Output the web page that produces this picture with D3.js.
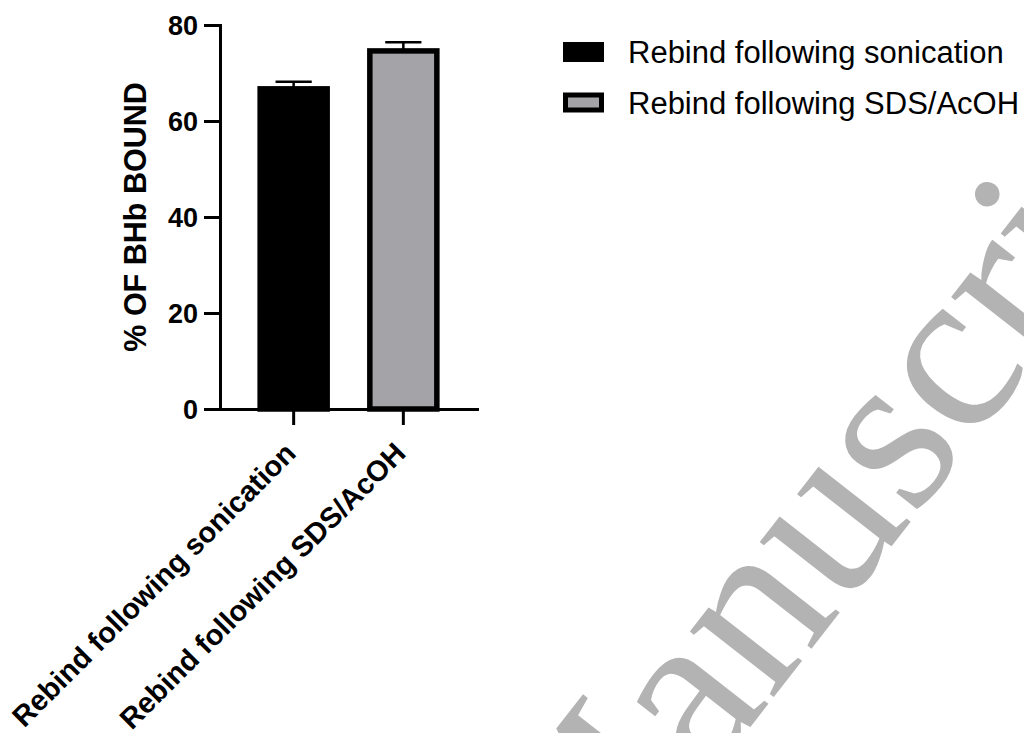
<!DOCTYPE html>
<html>
<head>
<meta charset="utf-8">
<script src="https://cdn.jsdelivr.net/npm/d3@7"></script>
<style>
  html, body { margin: 0; padding: 0; background: #fff; }
  svg { display: block; }
  text { font-family: Arial, "Liberation Sans", sans-serif; }
</style>
</head>
<body>
<svg id="chart" width="1024" height="733"></svg>
<script>
// dados
const categories = ['Rebind following sonication', 'Rebind following SDS/AcOH'];
const means = [66.7, 74.6];
const errors = [1.5, 1.8];
const yTicks = [0, 20, 40, 60, 80];
const fills = ['#000000', '#a3a3a8'];
const yTitle = '% OF BHb BOUND';
const watermark = 'Manuscript';

const svg = d3.select('#chart');

// marca d'água cinza ao fundo
svg.append('text')
  .attr('transform', 'translate(580, 945) rotate(-52)')
  .style('font-family', '"Liberation Serif", "Times New Roman", serif')
  .style('font-size', '232px')
  .attr('fill', '#b3b3b3')
  .text(watermark);

const x = d3.scaleBand().domain(categories).range([220, 477])
  .paddingInner(0.389).paddingOuter(0.366);
const y = d3.scaleLinear().domain([0, 80]).range([409, 25]);

const data = categories.map((c, i) => ({ name: c, mean: means[i], err: errors[i], fill: fills[i] }));

// barras
svg.selectAll('rect.bar')
  .data(data)
  .enter()
  .append('rect')
  .attr('class', 'bar')
  .attr('x', d => x(d.name))
  .attr('width', x.bandwidth())
  .attr('y', d => y(d.mean))
  .attr('height', d => y(0) - y(d.mean))
  .attr('fill', d => d.fill)
  .attr('stroke', '#000')
  .attr('stroke-width', 5.5);

// barras de erro (só para cima)
const eb = svg.selectAll('g.err').data(data).enter().append('g').attr('class', 'err');
eb.append('line')
  .attr('x1', d => x(d.name) + x.bandwidth() / 2)
  .attr('x2', d => x(d.name) + x.bandwidth() / 2)
  .attr('y1', d => y(d.mean))
  .attr('y2', d => y(d.mean + d.err))
  .attr('stroke', '#000').attr('stroke-width', 2.5);
eb.append('line')
  .attr('x1', d => x(d.name) + x.bandwidth() * 0.23)
  .attr('x2', d => x(d.name) + x.bandwidth() * 0.77)
  .attr('y1', d => y(d.mean + d.err))
  .attr('y2', d => y(d.mean + d.err))
  .attr('stroke', '#000').attr('stroke-width', 2.5);

// eixo Y
const yAxis = svg.append('g')
  .attr('transform', 'translate(220,0)')
  .call(d3.axisLeft(y).tickValues(yTicks).tickSize(16).tickSizeOuter(0).tickPadding(6));

// eixo X
const xAxis = svg.append('g')
  .attr('transform', 'translate(0,409)')
  .call(d3.axisBottom(x).tickSize(16).tickSizeOuter(0));

[yAxis, xAxis].forEach(a => {
  a.select('.domain').attr('stroke', '#000').attr('stroke-width', 3).attr('stroke-linecap', 'square');
  a.selectAll('.tick line').attr('stroke', '#000').attr('stroke-width', 3);
});

yAxis.selectAll('text')
  .style('font-size', '27px').style('font-weight', 'bold').attr('fill', '#000').attr('dy', '0.36em');

xAxis.selectAll('text')
  .attr('y', 0).attr('dy', 0)
  .attr('text-anchor', 'end')
  .attr('transform', 'translate(4,46) rotate(-45)')
  .style('font-size', '29px').style('font-weight', 'bold').attr('fill', '#000');

// título do eixo Y
svg.append('text')
  .attr('transform', `translate(146, ${(y(0) + y(80)) / 2}) rotate(-90)`)
  .attr('text-anchor', 'middle')
  .style('font-size', '30.5px').style('font-weight', 'bold')
  .text(yTitle);

// legenda
const legend = svg.selectAll('g.leg').data(data).enter().append('g')
  .attr('class', 'leg')
  .attr('transform', (d, i) => `translate(563, ${42 + i * 50.5})`);
legend.append('rect')
  .attr('x', 2.5).attr('y', 2.5).attr('width', 36).attr('height', 15)
  .attr('fill', d => d.fill).attr('stroke', '#000').attr('stroke-width', 5);
legend.append('text')
  .attr('x', 65).attr('y', 21)
  .style('font-size', '31px')
  .text(d => d.name);
</script>
</body>
</html>
